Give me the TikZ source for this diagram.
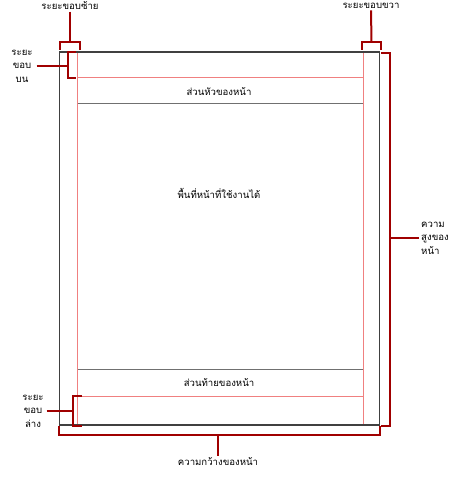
\documentclass[tikz,border=0pt]{standalone}
\usepackage{fontspec}
\newfontfamily\thaifont[Script=Thai]{Loma}
\definecolor{brk}{HTML}{A00000}
\definecolor{mrg}{HTML}{F08080}
\definecolor{pg}{HTML}{404040}
\definecolor{hf}{HTML}{707070}
\begin{document}
\begin{tikzpicture}[x=1pt,y=-1pt,
  lbl/.style={font=\thaifont\fontsize{9.6}{13.6}\selectfont,inner sep=0pt,text=black},
  bracket/.style={draw=brk,line width=2pt},
  marginline/.style={draw=mrg,line width=1pt},
  hfline/.style={draw=hf,line width=1pt},
  pageborder/.style={draw=pg,line width=1.2pt}]
\useasboundingbox (0,0) rectangle (454,478);
% page corners
\coordinate (tl) at (59.5,52);
\coordinate (br) at (379.5,425);
% margin lines
\draw[marginline] (77.5,52) -- (77.5,425);
\draw[marginline] (363,52) -- (363,425);
\draw[marginline] (77.5,77.5) -- (363,77.5);
\draw[marginline] (77.5,396) -- (363,396);
% header/footer lines
\draw[hfline] (77.5,104) -- (363,104);
\draw[hfline] (77.5,369.5) -- (363,369.5);
% page border
\draw[pageborder] (tl) rectangle (br);
% texts inside page
\node[lbl] (hdr) at (219,92) {ส่วนหัวของหน้า};
\node[lbl] (body) at (219,193) {พื้นที่หน้าที่ใช้งานได้};
\node[lbl] (ftr) at (219,383) {ส่วนท้ายของหน้า};
% left margin bracket
\node[lbl] (lm) at (70,6) {ระยะขอบซ้าย};
\coordinate (lmt) at (70,42);
\draw[bracket] (60,50) -- (60,42) -- (80,42) -- (80,50);
\draw[bracket] (lm.south) ++(0,1.5) -- (lmt);
% right margin bracket
\node[lbl] (rm) at (371,6) {ระยะขอบขวา};
\coordinate (rmt) at (371.5,42);
\draw[bracket] (362,50) -- (362,42) -- (381,42) -- (381,50);
\draw[bracket] (rm.south) ++(0,1.5) -- (rmt);
% top margin bracket
\node[lbl,align=center] (tm) at (22,66) {ระยะ\\ขอบ\\บน};
\coordinate (tmt) at (68,66);
\draw[bracket] (76,52) -- (68,52) -- (68,78) -- (76,78);
\draw[bracket] (tm.east) ++(4,0) -- (tmt);
% bottom margin bracket
\node[lbl,align=center] (bm) at (33,411) {ระยะ\\ขอบ\\ล่าง};
\coordinate (bmt) at (73,411);
\draw[bracket] (81.5,396) -- (73,396) -- (73,426) -- (81.5,426);
\draw[bracket] (bm.east) ++(3,0) -- (bmt);
% page height bracket
\node[lbl,align=left,anchor=west] (ph) at (421,238) {ความ\\สูงของ\\หน้า};
\coordinate (pht) at (390,238);
\draw[bracket] (381,53) -- (390,53) -- (390,426) -- (381,426);
\draw[bracket] (ph.west) ++(-2,0) -- (pht);
% page width bracket
\node[lbl] (pw) at (218,462) {ความกว้างของหน้า};
\coordinate (pwt) at (218,435);
\draw[bracket] (59,426) -- (59,435) -- (380,435) -- (380,426);
\draw[bracket] (pw.north) ++(0,-2) -- (pwt);
\end{tikzpicture}
\end{document}
